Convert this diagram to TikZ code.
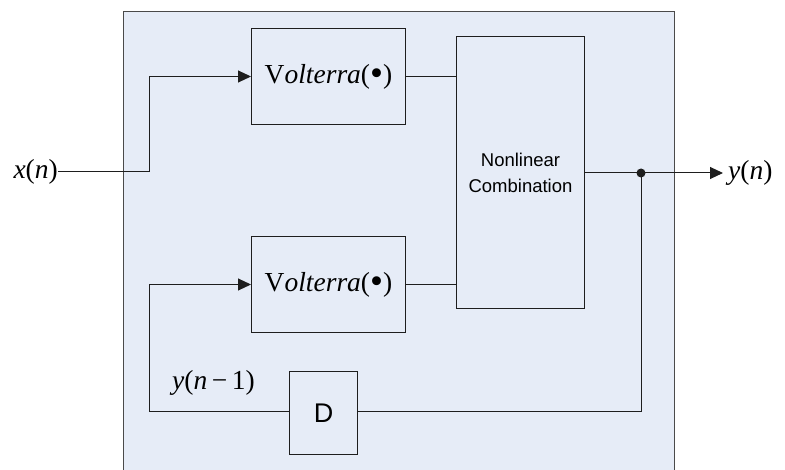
\documentclass[tikz,border=0pt]{standalone}
\usepackage{fontspec}
\setmainfont{Liberation Serif}
\newfontfamily\arialfont{Liberation Sans}
\usetikzlibrary{arrows.meta}
\definecolor{panelfill}{HTML}{E6ECF7}
\definecolor{panelline}{HTML}{4A4A4A}
\definecolor{wire}{HTML}{1E1E1E}
\newcommand{\opdot}{\raisebox{-0.08em}{\scalebox{1.35}{\textbullet}}}
\begin{document}
\begin{tikzpicture}[x=1pt,y=-1pt,
  blockbox/.style={draw=wire,line width=1pt,fill=panelfill,inner sep=0pt,anchor=north west},
  serifsig/.style={font=\fontsize{27.5}{29}\selectfont,inner sep=0pt},
  sanslabel/.style={font=\arialfont\fontsize{18.5}{26}\selectfont,align=center,inner sep=0pt},
  wireline/.style={draw=wire,line width=1pt},
  sigarrow/.style={wireline,-{Triangle[length=13pt,width=12pt]}},
  joint/.style={circle,fill=wire,inner sep=0pt,minimum size=9pt}]
\useasboundingbox (0,0) rectangle (785,470);
% system panel
\fill[panelfill] (123,12) rectangle (674,471);
\draw[panelline,line width=1pt] (123,471) -- (123,12) -- (674,12) -- (674,471);
% blocks
\node[blockbox,minimum width=154pt,minimum height=96pt] (v1) at (251,28) {};
\node[serifsig] at (v1.center) {V\textit{olterra}(\opdot)};
\node[blockbox,minimum width=154pt,minimum height=96pt] (v2) at (251,236) {};
\node[serifsig] at (v2.center) {V\textit{olterra}(\opdot)};
\node[blockbox,minimum width=128pt,minimum height=272pt] (nl) at (456,36) {};
\node[sanslabel] at (nl.center) {Nonlinear\\Combination};
\node[blockbox,minimum width=68pt,minimum height=83pt] (d) at (289,371) {};
\node[font=\arialfont\fontsize{27}{29}\selectfont,inner sep=0pt] at (d.center) {D};
% signal labels
\node[serifsig,anchor=east] (xin) at (58,172) {\textit{x}(\textit{n})};
\node[serifsig,anchor=west] (yout) at (728,173) {\textit{y}(\textit{n})};
\node[serifsig,anchor=west] (yprev) at (172,383) {\textit{y}(\textit{n}\,−\,1)};
% junction
\coordinate (tap) at (641,173);
\coordinate (tip) at (723,173);
\node[joint] (dot) at (tap) {};
% connectors
\draw[sigarrow] (xin.east) -- (149,172) |- (v1.west);
\draw[wireline] (v1.east) -- (v1.east -| nl.west);
\draw[wireline] (v2.east) -- (v2.east -| nl.west);
\draw[wireline] (nl.east |- tap) -- (tap);
\draw[sigarrow] (tap) -- (tip);
\draw[wireline] (tap) |- (d.east |- 0,412);
\draw[sigarrow] (d.west |- 0,412) -- (149,412) |- (v2.west);
\end{tikzpicture}
\end{document}
